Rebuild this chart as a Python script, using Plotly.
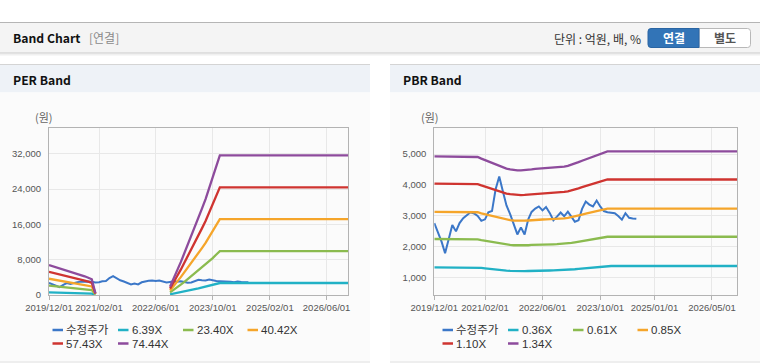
import pandas as pd
import plotly.graph_objects as go

W, H = 760, 364

# ---------------- data ----------------
months = pd.date_range("2019-12-01", "2026-12-01", freq="MS")  # 85 monthly points

# adjusted share price (수정주가), 2019/12 .. 2024/08
price = [2760, 2480, 2150, 1780, 2280, 2700, 2490, 2760, 2920, 3030,
         3110, 3070, 2990, 2830, 2880, 3110, 3150, 3850, 4270, 3800,
         3330, 3050, 2740, 2390, 2620, 2390, 2880, 3120, 3230, 3300,
         3170, 3280, 3090, 2850, 2970, 3100, 2980, 3130, 2960, 2800,
         2850, 3220, 3460, 3360, 3300, 3490, 3300, 3150, 3110, 3090,
         3080, 2990, 2870, 3080, 2930, 2910, 2900]

# EPS used by the PER band (None = no band)
eps = [91.3, 88.0, 84.6, 81.2, 77.8, 74.5, 71.0, 67.5, 64.0, 60.5,
       57.0, 52.5, 48.0, 5.0,
       None, None, None, None, None, None, None, None, None, None,
       None, None, None, None, None, None, None, None, None, None,
       25, 48, 75, 100, 127, 153, 180, 207, 235, 263,
       292, 325, 358, 392, 425,
       425, 425, 425, 425, 425, 425, 425, 425, 425, 425,
       425, 425, 425, 425, 425, 425, 425, 425, 425, 425,
       425, 425, 425, 425, 425, 425, 425, 425, 425, 425,
       425, 425, 425, 425, 425, 425]

# BPS used by the PBR band
bps = [3675, 3675, 3675, 3675, 3675, 3675, 3675, 3675, 3675, 3675,
       3675, 3675, 3660, 3620, 3585, 3545, 3505, 3470, 3435, 3405,
       3380, 3360, 3345, 3335, 3335, 3338, 3345, 3360, 3372, 3378,
       3382, 3385, 3388, 3392, 3400, 3412, 3428, 3445, 3470, 3500,
       3535, 3570, 3605, 3640, 3672, 3705, 3740, 3770, 3795, 3795,
       3795, 3795, 3795, 3795, 3795, 3795, 3795, 3795, 3795, 3795,
       3795, 3795, 3795, 3795, 3795, 3795, 3795, 3795, 3795, 3795,
       3795, 3795, 3795, 3795, 3795, 3795, 3795, 3795, 3795, 3795,
       3795, 3795, 3795, 3795, 3795]

per_multiples = [6.39, 23.40, 40.42, 57.43, 74.44]
pbr_multiples = [0.36, 0.61, 0.85, 1.10, 1.34]
price_name = "수정주가"
per_names = ["6.39X", "23.40X", "40.42X", "57.43X", "74.44X"]
pbr_names = ["0.36X", "0.61X", "0.85X", "1.10X", "1.34X"]

per_xticks = ["2019-12-01", "2021-02-01", "2022-06-01", "2023-10-01", "2025-02-01", "2026-06-01"]
per_xtext = ["2019/12/01", "2021/02/01", "2022/06/01", "2023/10/01", "2025/02/01", "2026/06/01"]
pbr_xticks = ["2019-12-01", "2021-02-01", "2022-06-01", "2023-10-01", "2025-01-01", "2026-05-01"]
pbr_xtext = ["2019/12/01", "2021/02/01", "2022/06/01", "2023/10/01", "2025/01/01", "2026/05/01"]
per_yticks = [0, 8000, 16000, 24000, 32000]
pbr_yticks = [1000, 2000, 3000, 4000, 5000]

# ---------------- style ----------------
PRICE_C = "#3b77c8"
BAND_C = ["#21b1c5", "#8bbb4f", "#f5a52a", "#cf3430", "#8d4b9c"]
CJK = "Noto Sans CJK KR"
TICKF = dict(family="Liberation Sans", size=9.5, color="#555555")


def px(x):
    return x / W


def py(y):
    return 1 - y / H


fig = go.Figure()

# price traces
for xa, ya in (("x", "y"), ("x2", "y2")):
    fig.add_trace(go.Scatter(x=months[:len(price)], y=price, mode="lines", name=price_name,
                             line=dict(color=PRICE_C, width=2), xaxis=xa, yaxis=ya,
                             showlegend=False, connectgaps=False))

for m, nm, c in zip(per_multiples, per_names, BAND_C):
    vals = [None if v is None else round(v * m) for v in eps]
    fig.add_trace(go.Scatter(x=months, y=vals, mode="lines", name=nm,
                             line=dict(color=c, width=2.3), xaxis="x", yaxis="y",
                             showlegend=False, connectgaps=False))
for m, nm, c in zip(pbr_multiples, pbr_names, BAND_C):
    vals = [round(v * m) for v in bps]
    fig.add_trace(go.Scatter(x=months, y=vals, mode="lines", name=nm,
                             line=dict(color=c, width=2.3), xaxis="x2", yaxis="y2",
                             showlegend=False))

axis_common = dict(showline=True, mirror=True, linecolor="#b3b3b3", linewidth=1,
                   gridcolor="#e8e8e8", zeroline=False, tickfont=TICKF, fixedrange=True,
                   automargin=False)
ydom = [py(295), py(128)]
fig.update_layout(
    xaxis=dict(domain=[px(49), px(348)], anchor="y", type="date",
               range=["2019-12-01", "2026-12-01"], tickvals=per_xticks, ticktext=per_xtext,
               ticks="outside", ticklen=4, tickcolor="#b3b3b3", tickangle=0, **axis_common),
    yaxis=dict(domain=ydom, anchor="x", range=[0, 37850], tickvals=per_yticks,
               ticktext=[f"{v:,}" for v in per_yticks], ticks="", ticklabelstandoff=5,
               **axis_common),
    xaxis2=dict(domain=[px(434.3), px(737.3)], anchor="y2", type="date",
                range=["2019-12-01", "2026-12-01"], tickvals=pbr_xticks, ticktext=pbr_xtext,
                ticks="outside", ticklen=4, tickcolor="#b3b3b3", tickangle=0, **axis_common),
    yaxis2=dict(domain=ydom, anchor="x2", range=[424, 5846], tickvals=pbr_yticks,
                ticktext=[f"{v:,}" for v in pbr_yticks], ticks="", ticklabelstandoff=5,
                **axis_common),
)

shapes = []


def rect(x0, y0, x1, y1, fill, line=None, lw=0):
    shapes.append(dict(type="rect", xref="paper", yref="paper", layer="below",
                       x0=px(x0), x1=px(x1), y0=py(y1), y1=py(y0), fillcolor=fill,
                       line=dict(color=line or fill, width=lw)))


def hline(x0, x1, y, color, w=1):
    shapes.append(dict(type="line", xref="paper", yref="paper", layer="below",
                       x0=px(x0), x1=px(x1), y0=py(y), y1=py(y), line=dict(color=color, width=w)))


def rounded(x0, y0, x1, y1, rl, rr, fill, line):
    # rectangle with rounded left (rl) / right (rr) corners, pixel inputs
    def p(x, y):
        return f"{px(x):.6f},{py(y):.6f}"
    d = (f"M{p(x0 + rl, y0)} L{p(x1 - rr, y0)} Q{p(x1, y0)} {p(x1, y0 + rr)} "
         f"L{p(x1, y1 - rr)} Q{p(x1, y1)} {p(x1 - rr, y1)} L{p(x0 + rl, y1)} "
         f"Q{p(x0, y1)} {p(x0, y1 - rl)} L{p(x0, y0 + rl)} Q{p(x0, y0)} {p(x0 + rl, y0)} Z")
    shapes.append(dict(type="path", xref="paper", yref="paper", layer="below", path=d,
                       fillcolor=fill, line=dict(color=line, width=1)))


# top header bar
rect(0, 22.5, 760, 52.5, "#f4f4f4")
hline(0, 760, 22.5, "#b5b5b5")
hline(0, 760, 53, "#c4c4c4")
hline(0, 760, 54, "#e2e2e2")
hline(0, 760, 55, "#f0f0f0")
# panels
for x0, x1 in ((0, 370), (390, 760)):
    rect(x0, 64.5, x1, 92.5, "#eef2f7")
    rect(x0, 92.5, x1, 361.5, "#fbfbfb")
    hline(x0, x1, 64.5, "#d4d4d4")
    hline(x0, x1, 362, "#dedede")
# buttons
rounded(699, 28.5, 750.5, 47.5, 0, 3, "#ffffff", "#b8b8b8")
rounded(648, 28.5, 699, 47.5, 3, 0, "#3274b7", "#2a65a3")

annotations = []


def text(x, y, s, size=12, color="#333333", anchor="left", family=CJK):
    annotations.append(dict(xref="paper", yref="paper", x=px(x), y=py(y), text=s,
                            showarrow=False, xanchor=anchor, yanchor="middle",
                            font=dict(family=family, size=size, color=color)))


text(11, 38, "<b>Band Chart</b>", 12.2, "#111111")
text(87, 38, "[연결]", 12, "#8a8a8a")
text(643, 38.5, "단위 : 억원, 배, %", 12, "#333333", "right")
text(673.5, 38, "<b>연결</b>", 12, "#ffffff", "center")
text(725, 38, "<b>별도</b>", 12, "#555555", "center")
text(11, 80, "<b>PER Band</b>", 12.2, "#111111")
text(401, 80, "<b>PBR Band</b>", 12.2, "#111111")
text(44, 117, "(원)", 11, "#666666", "center")
text(429.5, 117, "(원)", 11, "#666666", "center")

# legends (drawn manually: short line swatch + label)
offs = [0, 65.5, 130.5, 195]
rows = [330, 343.5]
for x_start, names in ((52.5, [price_name] + per_names), (442.5, [price_name] + pbr_names)):
    colors = [PRICE_C] + BAND_C
    for i, (nm, c) in enumerate(zip(names, colors)):
        r, k = divmod(i, 4)
        x0 = x_start + offs[k]
        y = rows[r]
        shapes.append(dict(type="line", xref="paper", yref="paper", layer="above",
                           x0=px(x0), x1=px(x0 + 10.5), y0=py(y), y1=py(y),
                           line=dict(color=c, width=2.5)))
        text(x0 + 11.5, y, nm, 11.5, "#333333", "left", "Liberation Sans, " + CJK)

fig.update_layout(
    width=W, height=H, autosize=False,
    margin=dict(l=0, r=0, t=0, b=0, pad=0),
    paper_bgcolor="#ffffff", plot_bgcolor="rgba(0,0,0,0)",
    shapes=shapes, annotations=annotations, showlegend=False,
    font=dict(family=CJK, color="#333333"),
)

fig.write_html(
    "out.html", config={"displayModeBar": False, "responsive": False},
    post_script=("document.documentElement.style.margin='0';"
                 "document.body.style.margin='0';document.body.style.padding='0';"
                 "document.documentElement.style.overflow='hidden';"
                 "document.body.style.overflow='hidden';"),
)
